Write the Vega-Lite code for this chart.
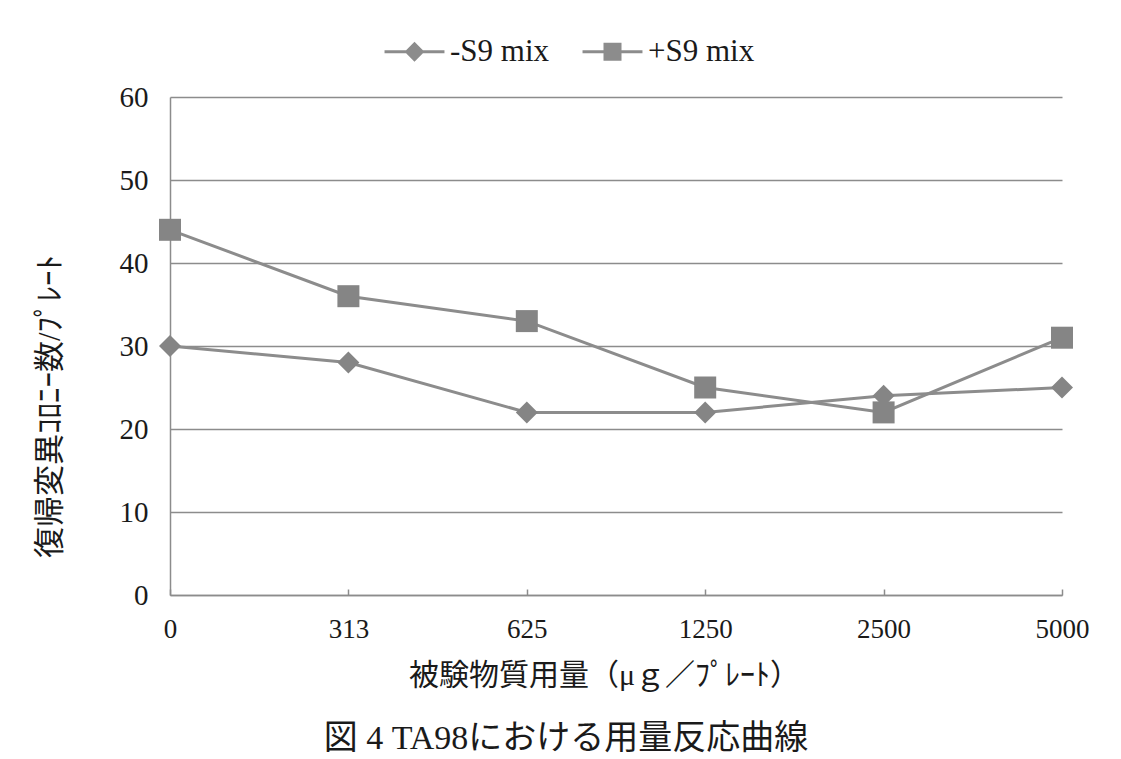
{
  "$schema": "https://vega.github.io/schema/vega-lite/v6.json",
  "width": 892,
  "height": 498,
  "autosize": {"type": "none"},
  "padding": {"left": 170, "top": 97, "right": 59, "bottom": 164},
  "background": "white",
  "config": {
    "view": {"stroke": null},
    "font": "Liberation Serif, Noto Sans CJK JP"
  },
  "title": {
    "text": "図 4 TA98における用量反応曲線",
    "orient": "bottom",
    "anchor": "middle",
    "fontSize": 34,
    "fontWeight": "normal",
    "font": "Liberation Serif, Noto Sans CJK JP",
    "color": "#1a1a1a",
    "offset": 32,
    "dx": -50
  },
  "data": {
    "values": [
      {"dose": "0", "series": "-S9 mix", "count": 30},
      {"dose": "313", "series": "-S9 mix", "count": 28},
      {"dose": "625", "series": "-S9 mix", "count": 22},
      {"dose": "1250", "series": "-S9 mix", "count": 22},
      {"dose": "2500", "series": "-S9 mix", "count": 24},
      {"dose": "5000", "series": "-S9 mix", "count": 25},
      {"dose": "0", "series": "+S9 mix", "count": 44},
      {"dose": "313", "series": "+S9 mix", "count": 36},
      {"dose": "625", "series": "+S9 mix", "count": 33},
      {"dose": "1250", "series": "+S9 mix", "count": 25},
      {"dose": "2500", "series": "+S9 mix", "count": 22},
      {"dose": "5000", "series": "+S9 mix", "count": 31}
    ]
  },
  "encoding": {
    "x": {
      "field": "dose",
      "type": "ordinal",
      "sort": ["0", "313", "625", "1250", "2500", "5000"],
      "scale": {"type": "point", "padding": 0},
      "axis": {
        "title": "被験物質用量（μｇ／ﾌﾟﾚｰﾄ）",
        "titleFont": "Liberation Serif, Noto Sans CJK JP",
        "titleFontSize": 30,
        "titleFontWeight": "normal",
        "titleColor": "#1a1a1a",
        "titleX": 434,
        "titleY": 80,
        "titleAlign": "center",
        "titleBaseline": "middle",
        "labelAngle": 0,
        "labelFontSize": 27,
        "labelColor": "#1a1a1a",
        "labelPadding": 27,
        "domainColor": "#8c8c8c",
        "domainWidth": 1.5,
        "tickColor": "#8c8c8c",
        "tickWidth": 1.5,
        "tickSize": -6,
        "grid": false
      }
    },
    "y": {
      "field": "count",
      "type": "quantitative",
      "scale": {"domain": [0, 60], "nice": false},
      "axis": {
        "values": [0, 10, 20, 30, 40, 50, 60],
        "title": "復帰変異ｺﾛﾆｰ数/ﾌﾟﾚｰﾄ",
        "titleFont": "Liberation Serif, Noto Sans CJK JP",
        "titleFontSize": 31,
        "titleFontWeight": "normal",
        "titleColor": "#1a1a1a",
        "titleX": -120,
        "titleY": 309,
        "titleAlign": "center",
        "titleBaseline": "middle",
        "labelFontSize": 29,
        "labelColor": "#1a1a1a",
        "labelPadding": 22,
        "ticks": false,
        "domainColor": "#8c8c8c",
        "domainWidth": 1.5,
        "grid": true,
        "gridColor": "#8c8c8c",
        "gridWidth": 1.5
      }
    }
  },
  "layer": [
    {
      "mark": {"type": "line", "strokeWidth": 3},
      "encoding": {
        "color": {
          "field": "series",
          "type": "nominal",
          "scale": {"domain": ["-S9 mix", "+S9 mix"], "range": ["#8c8c8c", "#8c8c8c"]},
          "legend": {
            "title": null,
            "orient": "none",
            "direction": "horizontal",
            "legendX": 229,
            "legendY": -61,
            "labelFontSize": 31,
            "labelColor": "#1a1a1a",
            "labelFont": "Liberation Serif",
            "symbolSize": 324,
            "labelOffset": 20,
            "columnPadding": 32,
            "encode": {
              "symbols": {
                "update": {
                  "shape": {"signal": "datum.value === '-S9 mix' ? 'M-3.33,-0.17H3.33V0.17H-3.33ZM0,-1.1L1.1,0L0,1.1L-1.1,0Z' : 'M-3.33,-0.17H3.33V0.17H-3.33ZM-1,-1H1V1H-1Z'"},
                  "fill": {"value": "#8c8c8c"},
                  "fillOpacity": {"value": 1},
                  "strokeWidth": {"value": 0},
                  "opacity": {"value": 1}
                }
              }
            }
          }
        }
      }
    },
    {
      "transform": [{"filter": "datum.series === '-S9 mix'"}],
      "mark": {"type": "point", "shape": "diamond", "filled": true, "opacity": 1, "size": 484, "color": "#858585"}
    },
    {
      "transform": [{"filter": "datum.series === '+S9 mix'"}],
      "mark": {"type": "point", "shape": "square", "filled": true, "opacity": 1, "size": 484, "color": "#858585"}
    }
  ]
}
